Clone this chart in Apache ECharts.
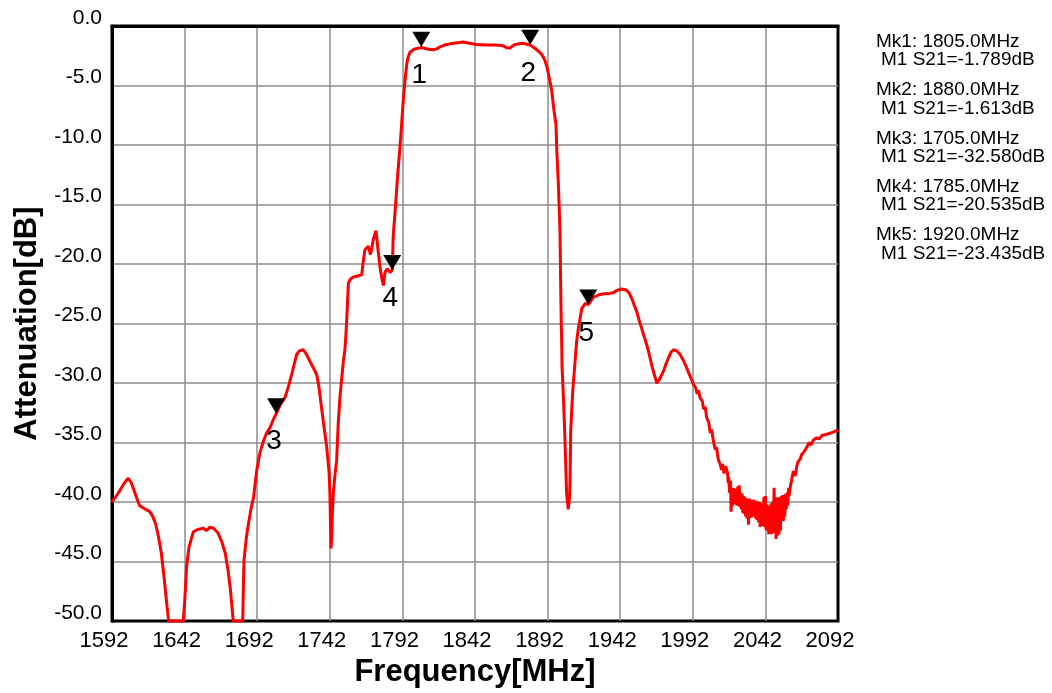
<!DOCTYPE html>
<html>
<head>
<meta charset="utf-8">
<script src="https://cdn.jsdelivr.net/npm/echarts@6/dist/echarts.min.js"></script>
<style>
html,body{margin:0;padding:0;background:#fff;}
#chart{width:1052px;height:693px;}
</style>
</head>
<body>
<div id="chart"></div>
<script>
// ---- data ----
const freqMHz = [
1592,1596,1600,1603,1605,1608,1611,1615,1618,1620,1622,1624,1626,1628,1629.5,1631,
1641,1642,1643.4,1645,1648,1651,1655,1657,1659.5,1662,1665,1667.5,1670,1672,1673.5,1675.5,
1682,1682.9,1684.5,1686,1688,1689.5,1691.6,1694,1696.2,1698.5,1701,1703,1705,1708,1711,
1713.5,1715.7,1717.5,1719.2,1721,1723.7,1726,1728.4,1731,1733,1734.5,1735.5,1737.5,1739.9,
1741.5,1742.1,1742.5,1742.8,1743.3,1743.8,1744.4,1745.5,1746.7,1747.9,1749,1750.2,1751.5,
1752.5,1753.3,1754,1754.8,1756,1758,1761,1764,1765,1766.2,1768.5,1770,1771,1772,1773.8,
1774.5,1775.4,1776.5,1777.7,1778.9,1780,1781.6,1783.5,1785,1785.7,1787.4,1788.7,1790.4,
1791.5,1792.6,1793.8,1795,1796,1797.2,1800,1805,1810,1813.3,1816,1818,1821,1825,1830,
1834,1838,1843,1850,1856,1861.5,1864,1866,1869.5,1875,1880,1883,1885.6,1888,1890.2,
1891.5,1892.5,1894,1894.8,1896.4,1897.8,1898.3,1899.4,1900.2,1900.6,1901,1901.4,1901.7,
1902,1903,1904,1905.1,1906.2,1907.2,1907.6,1907.9,1909.3,1910.9,1912,1913.2,1915.5,1918,
1920,1923.5,1927,1930.4,1934,1937.3,1940,1943.1,1946.5,1948.5,1950,1951.5,1953.4,1955,
1956.8,1958.5,1960.3,1962,1963.7,1965.5,1967.2,1969,1971.8,1973.5,1975.2,1977,1978.7,
1981,1983.3,1985.5,1987.9,1990,1992.5,1994,1995,1996,1997,1998.5,1999.5,2000.5,2001.6,
2003,2004,2005,2006.2,2007.5,2008.4,2009.5,2010.8,2011.8,2012.5,2013.5,2014.5,2015.2,
2016,2016.35,2016.7,2017,2017.35,2017.7,2018,2018.35,2018.7,2019,2019.35,2019.7,
2020,2020.35,2020.7,2021,2021.35,2021.7,2022,2022.35,2022.7,2023,2023.35,2023.7,
2024,2024.35,2024.7,2025,2025.35,2025.7,2026,2026.35,2026.7,2027,2027.35,2027.7,
2028,2028.35,2028.7,2029,2029.35,2029.7,2030,2030.35,2030.7,2031,2031.35,2031.7,
2032,2032.35,2032.7,2033,2033.35,2033.7,2034,2034.35,2034.7,2035,2035.35,2035.7,
2036,2036.35,2036.7,2037,2037.35,2037.7,2038,2038.35,2038.7,2039,2039.35,2039.7,
2040,2040.35,2040.7,2041,2041.35,2041.7,2042,2042.35,2042.7,2043,2043.35,2043.7,
2044,2044.35,2044.7,2045,2045.35,2045.7,2046,2046.35,2046.7,2047,2047.35,2047.7,
2048,2048.35,2048.7,2049,2049.35,2049.7,2050,2050.35,2050.7,2051,2051.35,2051.7,
2052,2052.35,2052.7,2053,2053.35,2053.7,2054,2054.35,2054.7,2055,2055.35,2055.7,
2056,2056.35,2056.7,2057,2057.35,2057.7,2058,2058.35,2058.7,
2059.3,2060,2061.2,2062.5,2063.6,2064.5,2065.9,2067,
2068.5,2070.5,2072,2073.5,2075,2077.3,2079,2081,2084.2,2087,2089,2091,2092
];
const s21dB = [
-40.0,-39.3,-38.5,-38.0,-38.3,-39.3,-40.3,-40.6,-40.8,-41.2,-41.8,-42.9,-44.3,-46.5,-48.3,-50,
-50,-48.5,-45.4,-43.8,-42.5,-42.3,-42.2,-42.4,-42.1,-42.2,-42.6,-43.3,-44.3,-45.8,-47.3,-50,
-50,-44.9,-43.0,-41.8,-40.4,-39.6,-37.4,-35.8,-34.9,-34.2,-33.7,-33.1,-32.6,-31.8,-31.25,
-30.3,-29.3,-28.4,-27.6,-27.3,-27.2,-27.6,-28.2,-28.8,-29.3,-30.3,-31.3,-33.2,-35.4,
-37.5,-39.3,-42,-43.9,-43.0,-41,-39.3,-37.8,-36.5,-33.2,-31.2,-29.6,-28.0,
-27.1,-25.5,-23.8,-21.6,-21.3,-21.1,-21.0,-20.9,-19.8,-18.8,-18.5,-19.2,-18.6,-17.9,-17.2,
-18.0,-19.0,-20.2,-21.1,-21.8,-20.7,-20.4,-20.7,-20.5,-17.6,-14.9,-12.6,-10.1,
-8.2,-6.25,-4.6,-3.2,-2.6,-2.2,-1.95,-1.8,-1.95,-2.0,-1.9,-1.75,-1.6,-1.5,-1.4,
-1.35,-1.45,-1.55,-1.6,-1.6,-1.65,-1.85,-1.85,-1.55,-1.45,-1.6,-1.85,-2.1,-2.4,-2.9,
-3.4,-4.0,-4.9,-5.4,-7.1,-8.3,-10.4,-13.2,-16,-17.5,-21.8,-25,-26.5,
-28.8,-31.5,-34.9,-39.3,-40.6,-39.5,-37,-34.0,-30.7,-28.2,-26.5,-25.4,-23.75,-23.3,
-23.4,-22.8,-22.6,-22.5,-22.5,-22.4,-22.2,-22.1,-22.2,-22.5,-22.9,-23.4,-24.0,-24.7,
-25.4,-26.1,-26.8,-27.6,-28.5,-29.3,-30.0,-29.7,-29.0,-28.4,-27.9,-27.4,-27.2,
-27.3,-27.6,-28.1,-28.75,-29.4,-30.1,-30.4,-30.9,-30.6,-31.25,-31.5,-32.2,-32.0,-32.9,
-33.3,-34.2,-33.9,-34.9,-35.6,-35.4,-36.4,-36.8,-37.3,-36.8,-37.6,-37.0,-37.2,
-37.6,-38.4,-37.9,-37.8,-39.2,-38.4,-38.2,-40.8,-39.3,-38.8,-40.3,-39.5,
-38.8,-40.2,-39.4,-39.0,-40.0,-39.3,-38.9,-40.3,-39.6,-38.7,-40.0,-39.2,
-38.6,-40.4,-39.5,-39.2,-40.6,-39.8,-39.3,-40.9,-40.1,-39.5,-41.0,-40.2,
-39.6,-41.2,-40.3,-39.7,-41.4,-40.5,-39.7,-41.9,-40.6,-39.7,-41.0,-40.4,
-39.8,-41.3,-40.5,-39.9,-41.2,-40.4,-39.8,-41.1,-40.6,-39.9,-41.4,-40.6,
-39.9,-41.5,-40.7,-40.0,-41.7,-40.8,-40.0,-42.1,-40.9,-40.1,-41.8,-40.9,
-40.2,-42.0,-41.0,-39.6,-42.1,-40.8,-39.5,-42.3,-41.1,-40.2,-42.4,-41.3,
-40.4,-42.7,-41.5,-40.3,-42.6,-41.4,-40.1,-42.7,-41.4,-40.0,-42.5,-41.3,
-38.8,-42.6,-40.9,-39.6,-43.1,-41.3,-39.8,-42.8,-41.2,-39.6,-42.7,-41.0,
-39.8,-42.4,-40.9,-39.5,-41.5,-40.5,-39.4,-41.6,-40.4,-39.6,-41.2,-40.3,
-39.3,-40.6,-39.9,-39.2,-40.3,-39.7,-38.8,-39.5,-39.1,
-38.6,-38.2,-37.4,-37.8,-37.0,-36.6,-36.4,-36.0,
-35.8,-35.4,-35.0,-35.2,-34.8,-34.6,-34.7,-34.4,-34.3,-34.2,-34.1,-34.0,-33.9
];
const markerNames = ['1','2','3','4','5'];
const markerFreq = [1805.0, 1880.0, 1705.0, 1785.0, 1920.0];
const markerS21 = [-1.789, -1.613, -32.580, -20.535, -23.435];
const xTickLabels = ['1592','1642','1692','1742','1792','1842','1892','1942','1992','2042','2092'];
const yTickLabels = ['0.0','-5.0','-10.0','-15.0','-20.0','-25.0','-30.0','-35.0','-40.0','-45.0','-50.0'];
const xStart = 1592;

// ---- build chart ----
const FONT = '"Liberation Sans", Arial, sans-serif';
const curve = freqMHz.map((f, i) => [f - xStart, s21dB[i]]);
const marks = markerFreq.map((f, i) => [f - xStart, markerS21[i]]);

const readout = [];
markerFreq.forEach((f, i) => {
  const y0 = 41.7 + i * 48.3;
  readout.push({
    type: 'text', x: 876, y: y0,
    style: { text: 'Mk' + markerNames[i] + ': ' + f.toFixed(1) + 'MHz', fill: '#000',
             fontSize: 19, fontFamily: FONT, verticalAlign: 'middle', align: 'left' }
  });
  readout.push({
    type: 'text', x: 881, y: y0 + 18.5,
    style: { text: 'M1 S21=' + markerS21[i].toFixed(3) + 'dB', fill: '#000',
             fontSize: 19, fontFamily: FONT, verticalAlign: 'middle', align: 'left' }
  });
});

const chart = echarts.init(document.getElementById('chart'), null, { renderer: 'canvas' });
chart.setOption({
  animation: false,
  backgroundColor: '#fff',
  grid: { left: 112, right: 214, top: 26, bottom: 68, show: true,
          borderColor: '#000', borderWidth: 3, backgroundColor: 'transparent' },
  xAxis: {
    type: 'value', min: 0, max: 500, interval: 50,
    name: 'Frequency[MHz]', nameLocation: 'middle', nameGap: 26,
    nameTextStyle: { fontSize: 31, fontWeight: 'bold', fontFamily: FONT, color: '#000' },
    axisLine: { show: true, lineStyle: { color: '#000', width: 3 } },
    axisTick: { show: false },
    axisLabel: { show: true, margin: 9, fontSize: 22, fontFamily: FONT, color: '#000',
                 padding: [0, 16, 0, 0], showMinLabel: true, showMaxLabel: true,
                 formatter: v => xTickLabels[Math.round(v / 50)] },
    splitLine: { show: true, showMinLine: false, showMaxLine: false,
                 lineStyle: { color: '#8c8c8c', width: 1.5 } }
  },
  yAxis: {
    type: 'value', min: -50, max: 0, interval: 5,
    name: 'Attenuation[dB]', nameLocation: 'middle', nameGap: 66, nameRotate: 90,
    nameTextStyle: { fontSize: 31, fontWeight: 'bold', fontFamily: FONT, color: '#000' },
    axisLine: { show: true, lineStyle: { color: '#000', width: 3 } },
    axisTick: { show: false },
    axisLabel: { show: true, margin: 10, fontSize: 21, fontFamily: FONT, color: '#000',
                 verticalAlign: 'bottom', lineHeight: 16, showMinLabel: true, showMaxLabel: true,
                 formatter: v => yTickLabels[Math.round(-v / 5)] },
    splitLine: { show: true, showMinLine: false, showMaxLine: false,
                 lineStyle: { color: '#8c8c8c', width: 1.5 } }
  },
  series: [
    {
      type: 'line', data: curve, showSymbol: false, symbol: 'none', clip: false,
      lineStyle: { color: '#ff0000', width: 3 }, z: 3
    },
    {
      type: 'scatter', data: marks, symbol: 'path://M0,0 L16,0 L8,14 Z',
      symbolSize: [18, 15], symbolOffset: [0, -8],
      itemStyle: { color: '#000', opacity: 1 }, z: 5, clip: false
    },
    {
      type: 'scatter', data: marks, symbolSize: 1,
      itemStyle: { color: 'rgba(0,0,0,0)', opacity: 1 },
      label: { show: true, position: 'inside', offset: [-2, 28], fontSize: 28,
               fontFamily: FONT, color: '#000',
               formatter: p => markerNames[p.dataIndex] },
      z: 6, clip: false
    }
  ],
  graphic: readout
});
</script>
</body>
</html>
